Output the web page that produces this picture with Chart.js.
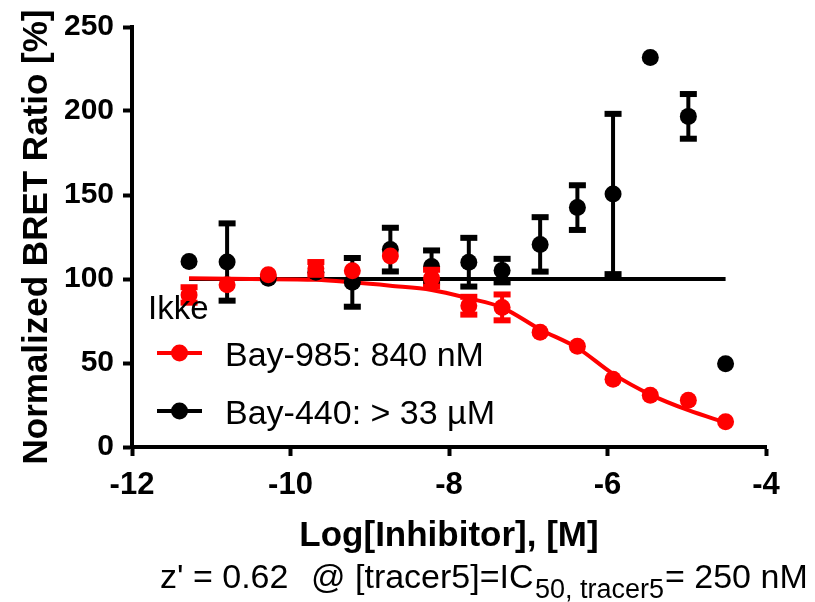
<!DOCTYPE html>
<html>
<head>
<meta charset="utf-8">
<script src="https://cdn.jsdelivr.net/npm/chart.js@4.4.0/dist/chart.umd.min.js"></script>
<style>
  html, body { margin: 0; padding: 0; background: #fff; }
  #wrap { width: 815px; height: 602px; }
</style>
</head>
<body>
<div id="wrap"><canvas id="chart" width="815" height="602"></canvas></div>
<script>
// log concentrations [M] of the dilution series
const logConc = [-11.28, -10.80, -10.28, -9.68, -9.22, -8.74, -8.22, -7.75, -7.33, -6.85, -6.38, -5.93, -5.46, -4.98, -4.51];

// Bay-985 (red)
const bay985Mean = [90.5, 96.6, 102.5, 106.3, 104.9, 113.7, 100.5, 84.1, 83.1, 68.3, 60.0, 40.3, 30.8, 27.8, 15.0];
const bay985Err = [4.6, 0, 0, 3.8, 0, 0, 5, 5.3, 7.7, 0, 0, 0, 0, 0, 0];

// Bay-440 (black)
const bay440Mean = [110.4, 110.1, 100.5, 104, 98, 117.5, 107.5, 110, 105, 120.6, 142.5, 150.6, 231.8, 196.8, 49.6];
const bay440Err = [0, 23, 0, 0, 14.5, 13, 9.5, 14.5, 7, 16.2, 13.3, 47.7, 0, 13.3, 0];

// fitted curves
const fit985X = [-11.28, -10.5, -9.68, -9.22, -8.74, -8.22, -7.75, -7.33, -6.85, -6.38, -5.93, -5.46, -4.98, -4.51];
const fit985Y = [100.5, 100, 99.5, 98, 96, 93.5, 88.5, 83, 70, 59, 43.5, 31.2, 21.9, 14.5];
const fit440X = [-11.28, -4.51];
const fit440Y = [100, 100];

const xTicks = [-12, -10, -8, -6, -4];
const yTicks = [0, 50, 100, 150, 200, 250];

const FONT = '"Liberation Sans", Arial, Helvetica, sans-serif';
const RED = '#ff0000';
const BLACK = '#000000';

const toPoints = (xs, ys) => xs.map((x, i) => ({ x: x, y: ys[i] }));

// error bars, drawn just before the points of the same dataset
const errorBars = {
  id: 'errorBars',
  beforeDatasetDraw(chart, args) {
    const ds = chart.data.datasets[args.index];
    if (!ds.errors) return;
    const ctx = chart.ctx;
    const xs = chart.scales.x, ys = chart.scales.y;
    ctx.save();
    ctx.strokeStyle = ds.backgroundColor;
    ctx.fillStyle = ds.backgroundColor;
    ctx.lineWidth = 4;
    ds.data.forEach((p, i) => {
      const e = ds.errors[i];
      if (!e) return;
      const px = xs.getPixelForValue(p.x);
      const top = ys.getPixelForValue(p.y + e);
      const bot = ys.getPixelForValue(p.y - e);
      ctx.beginPath();
      ctx.moveTo(px, top);
      ctx.lineTo(px, bot);
      ctx.stroke();
      ctx.fillRect(px - 8.5, top - 3, 17, 6);
      ctx.fillRect(px - 8.5, bot - 3, 17, 6);
    });
    ctx.restore();
  }
};

// legend block and footnote
const extras = {
  id: 'extras',
  afterDraw(chart) {
    const ctx = chart.ctx;
    ctx.save();
    ctx.fillStyle = BLACK;
    ctx.textBaseline = 'alphabetic';
    ctx.textAlign = 'left';
    ctx.font = '33px ' + FONT;
    ctx.fillText('Ikke', 148, 319);

    const items = [chart.data.datasets[0], chart.data.datasets[1]];
    const rowY = [353, 411];
    ctx.font = '34px ' + FONT;
    items.forEach((ds, i) => {
      const y = rowY[i];
      ctx.strokeStyle = ds.backgroundColor;
      ctx.fillStyle = ds.backgroundColor;
      ctx.lineWidth = 4;
      ctx.beginPath();
      ctx.moveTo(157, y);
      ctx.lineTo(202, y);
      ctx.stroke();
      ctx.beginPath();
      ctx.arc(179.5, y, 8.5, 0, Math.PI * 2);
      ctx.fill();
      ctx.fillStyle = BLACK;
      ctx.fillText(ds.label, 225, y + 13);
    });

    // footnote
    ctx.font = '34px ' + FONT;
    ctx.fillText("z' = 0.62", 160, 588);
    ctx.fillText('@', 311, 588);
    ctx.fillText('[tracer5]=IC', 355, 588);
    ctx.font = '27px ' + FONT;
    ctx.fillText('50, tracer5', 535, 598);
    ctx.font = '34px ' + FONT;
    ctx.fillText('= 250 nM', 665, 588);
    ctx.restore();
  }
};

new Chart(document.getElementById('chart'), {
  type: 'scatter',
  data: {
    datasets: [
      {
        label: 'Bay-985: 840 nM',
        data: toPoints(logConc, bay985Mean),
        errors: bay985Err,
        backgroundColor: RED,
        borderColor: RED,
        pointRadius: 8.5,
        pointBorderWidth: 0,
        order: 1
      },
      {
        label: 'Bay-440: > 33 µM',
        data: toPoints(logConc, bay440Mean),
        errors: bay440Err,
        backgroundColor: BLACK,
        borderColor: BLACK,
        pointRadius: 8.5,
        pointBorderWidth: 0,
        order: 2
      },
      {
        label: 'fit 985',
        data: toPoints(fit985X, fit985Y),
        showLine: true,
        borderColor: RED,
        borderWidth: 4,
        pointRadius: 0,
        cubicInterpolationMode: 'monotone',
        order: 3
      },
      {
        label: 'fit 440',
        data: toPoints(fit440X, fit440Y),
        showLine: true,
        borderColor: BLACK,
        borderWidth: 4,
        pointRadius: 0,
        order: 4
      }
    ]
  },
  options: {
    responsive: false,
    animation: false,
    layout: { padding: { left: 0, right: 49, top: 25, bottom: 45 } },
    plugins: {
      legend: { display: false },
      tooltip: { enabled: false }
    },
    scales: {
      x: {
        type: 'linear',
        min: -12,
        max: -4,
        afterBuildTicks: (s) => { s.ticks = xTicks.map(v => ({ value: v })); },
        afterFit: (s) => { s.height = 110; },
        border: { display: true, color: BLACK, width: 4 },
        grid: { drawOnChartArea: false, drawTicks: true, tickLength: 9, tickWidth: 4, tickColor: BLACK },
        ticks: { color: BLACK, padding: 11, maxRotation: 0, font: { family: FONT, size: 31, weight: 'bold' } },
        title: {
          display: true,
          text: 'Log[Inhibitor], [M]',
          color: BLACK,
          font: { family: FONT, size: 35, weight: 'bold' },
          padding: { top: 0, bottom: 0 }
        }
      },
      y: {
        type: 'linear',
        min: 0,
        max: 250,
        afterBuildTicks: (s) => { s.ticks = yTicks.map(v => ({ value: v })); },
        afterFit: (s) => { s.width = 132; },
        border: { display: true, color: BLACK, width: 4 },
        grid: { drawOnChartArea: false, drawTicks: true, tickLength: 9, tickWidth: 4, tickColor: BLACK },
        ticks: { color: BLACK, padding: 9, font: { family: FONT, size: 30, weight: 'bold' } },
        title: {
          display: true,
          text: 'Normalized BRET Ratio [%]',
          color: BLACK,
          font: { family: FONT, size: 35, weight: 'bold' },
          padding: { top: 16, bottom: 0 }
        }
      }
    }
  },
  plugins: [errorBars, extras]
});
</script>
</body>
</html>
